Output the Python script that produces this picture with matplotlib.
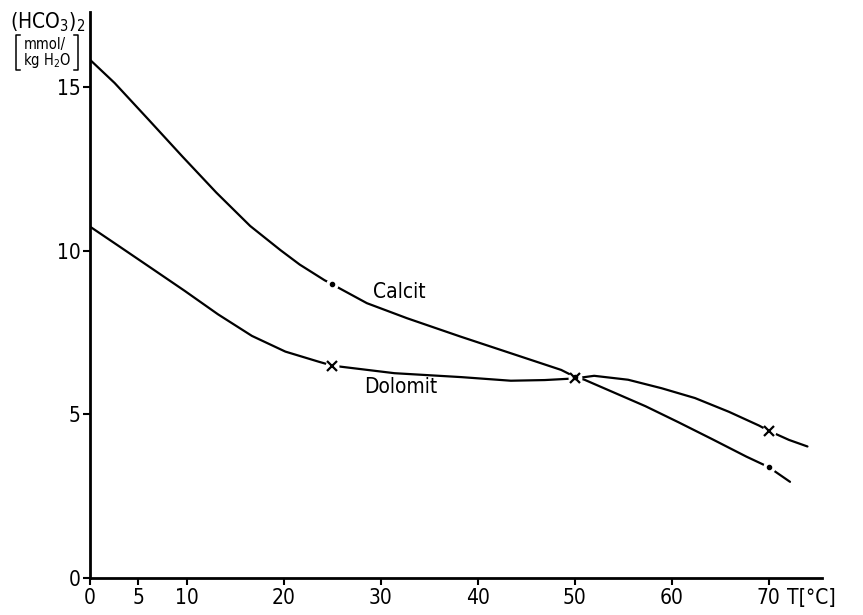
import matplotlib
matplotlib.use("Agg")
import matplotlib.pyplot as plt
from matplotlib.lines import Line2D

# values
calcit_t = [0, 2.54, 6.04, 9.54, 13.03, 16.52, 19.65, 21.63, 24.2, 25, 25.7, 28.56, 32.7,
            38.2, 43.4, 48.6, 50, 51.0, 53.8, 57.3, 60.7, 64.2, 67.7, 70, 72.2]
calcit_v = [15.84, 15.13, 14.01, 12.88, 11.78, 10.76, 10.02, 9.58, 9.1, 8.98, 8.86, 8.40, 7.94,
            7.38, 6.87, 6.36, 6.15, 6.06, 5.70, 5.25, 4.76, 4.24, 3.71, 3.39, 2.94]

dolomit_t = [0, 2.8, 6.28, 9.75, 13.2, 16.7, 20.15, 23.6, 25, 31.4, 38.3, 43.4, 46.9, 50,
             52.0, 55.5, 58.96, 62.4, 65.9, 69.0, 70, 72.1, 74.0]
dolomit_v = [10.74, 10.18, 9.48, 8.78, 8.06, 7.40, 6.92, 6.61, 6.49, 6.26, 6.14, 6.03, 6.05, 6.1,
             6.18, 6.06, 5.8, 5.5, 5.08, 4.66, 4.5, 4.22, 4.02]

calcit_mark_t = [25, 50, 70]
calcit_mark_v = [8.98, 6.15, 3.39]
dolomit_mark_t = [25, 50, 70]
dolomit_mark_v = [6.49, 6.1, 4.5]

xticks = [0, 5, 10, 20, 30, 40, 50, 60, 70]
yticks = [0, 5, 10, 15]

plt.rcParams["font.family"] = ["DejaVu Sans"]
plt.rcParams["font.stretch"] = "condensed"

fig = plt.figure(figsize=(8.63, 6.15), dpi=100)
ax = fig.add_axes([90 / 863, 37 / 615, 732 / 863, 566 / 615])

ax.plot(calcit_t, calcit_v, color="black", lw=1.6, solid_capstyle="round", solid_joinstyle="round")
ax.plot(dolomit_t, dolomit_v, color="black", lw=1.6, solid_capstyle="round", solid_joinstyle="round")

# white halo so the line breaks around each mark, like the original
ax.plot(calcit_mark_t, calcit_mark_v, "o", color="white", ms=8, zorder=3)
ax.plot(dolomit_mark_t, dolomit_mark_v, "o", color="white", ms=9, zorder=3)
ax.plot(dolomit_mark_t, dolomit_mark_v, "x", color="black", ms=7, mew=1.6, zorder=4)
ax.plot(calcit_mark_t, calcit_mark_v, ".", color="black", ms=6, zorder=5)

ax.text(31.9, 8.75, "Calcit", fontsize=15, ha="center", va="center")
ax.text(32.1, 5.85, "Dolomit", fontsize=15, ha="center", va="center")

ax.set_xlim(0, 75.5)
ax.set_ylim(0, 17.3)
ax.set_xticks(xticks)
ax.set_yticks(yticks)
ax.tick_params(axis="both", direction="out", length=5, width=1.5, labelsize=15, pad=2)
for side in ["top", "right"]:
    ax.spines[side].set_visible(False)
for side in ["left", "bottom"]:
    ax.spines[side].set_linewidth(2)

# axis titles
fig.text(48 / 863, 1 - 22 / 615, r"(HCO$_3$)$_2$", fontsize=15, ha="center", va="center")
fig.text(45 / 863, 1 - 44 / 615, "mmol/", fontsize=10.5, ha="center", va="center")
fig.text(47 / 863, 1 - 61 / 615, r"kg H$_2$O", fontsize=10.5, ha="center", va="center")
for x0, x1 in [(16, 20), (78, 74)]:
    fig.add_artist(Line2D([x1 / 863, x0 / 863, x0 / 863, x1 / 863],
                          [1 - 35 / 615, 1 - 35 / 615, 1 - 70 / 615, 1 - 70 / 615],
                          color="black", lw=1.1))
fig.text(811 / 863, 1 - 598 / 615, "T[°C]", fontsize=15, ha="center", va="center")

fig.savefig("out.png", dpi=100)
